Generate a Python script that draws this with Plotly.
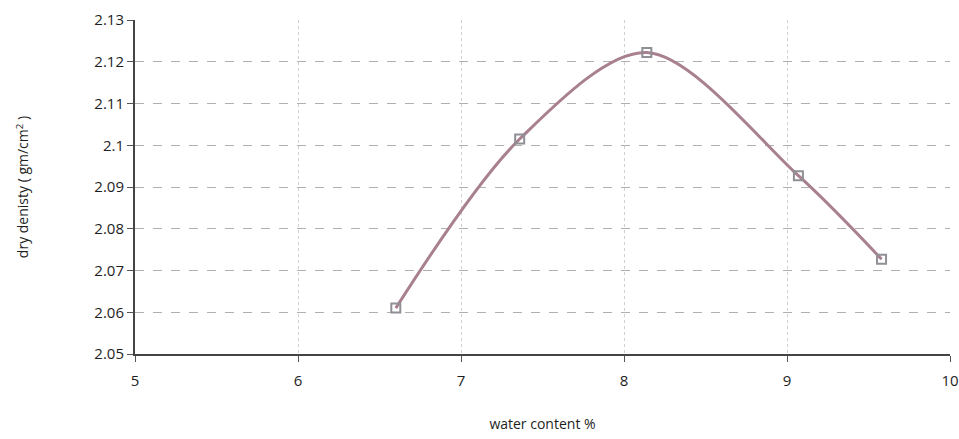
import plotly.graph_objects as go

water_content = [6.6, 7.36, 8.14, 9.07, 9.58]
dry_density = [2.061, 2.1015, 2.1222, 2.0927, 2.0727]

y_ticks = [2.05, 2.06, 2.07, 2.08, 2.09, 2.1, 2.11, 2.12, 2.13]
y_tick_labels = ["2.05", "2.06", "2.07", "2.08", "2.09", "2.1", "2.11", "2.12", "2.13"]
x_ticks = [5, 6, 7, 8, 9, 10]
x_tick_labels = ["5", "6", "7", "8", "9", "10"]

fig = go.Figure()
fig.add_trace(go.Scatter(
    x=water_content, y=dry_density,
    mode="lines+markers",
    line=dict(shape="spline", smoothing=0.9, color="#a8808f", width=3),
    marker=dict(symbol="square-open", size=9, color="#8f8f95", line=dict(width=2, color="#8f8f95")),
    showlegend=False,
))

font_family = "Open Sans, Liberation Sans, sans-serif"
fig.update_layout(
    width=959, height=439,
    margin=dict(l=135, r=9, t=20, b=85),
    paper_bgcolor="white", plot_bgcolor="white",
    font=dict(family=font_family, color="#1e1e1e", size=14),
    xaxis=dict(
        range=[5, 10], tickvals=x_ticks, ticktext=x_tick_labels,
        showline=True, linecolor="#444", linewidth=2,
        ticks="outside", ticklen=6, tickcolor="#555",
        ticklabelstandoff=6, automargin=False, ticklabeloverflow="allow",
        showgrid=True, gridcolor="#d0d0d0", griddash="dot", gridwidth=1,
        zeroline=False,
        title=dict(text="water content %", font=dict(size=14), standoff=30),
        tickfont=dict(size=15),
    ),
    yaxis=dict(
        range=[2.05, 2.13], tickvals=y_ticks, ticktext=y_tick_labels,
        showline=True, linecolor="#444", linewidth=2,
        ticks="outside", ticklen=6, tickcolor="#555",
        automargin=False,
        showgrid=True, gridcolor="#b0b0b0", griddash="dash", gridwidth=1,
        zeroline=False,
        title=dict(text="dry denisty ( gm/cm<sup>2</sup> )", font=dict(size=14), standoff=62),
        tickfont=dict(size=15),
    ),
)

fig.write_html(
    "out.html",
    config={"displayModeBar": False},
    post_script="document.body.style.margin='0px';document.body.style.overflow='hidden';",
)
